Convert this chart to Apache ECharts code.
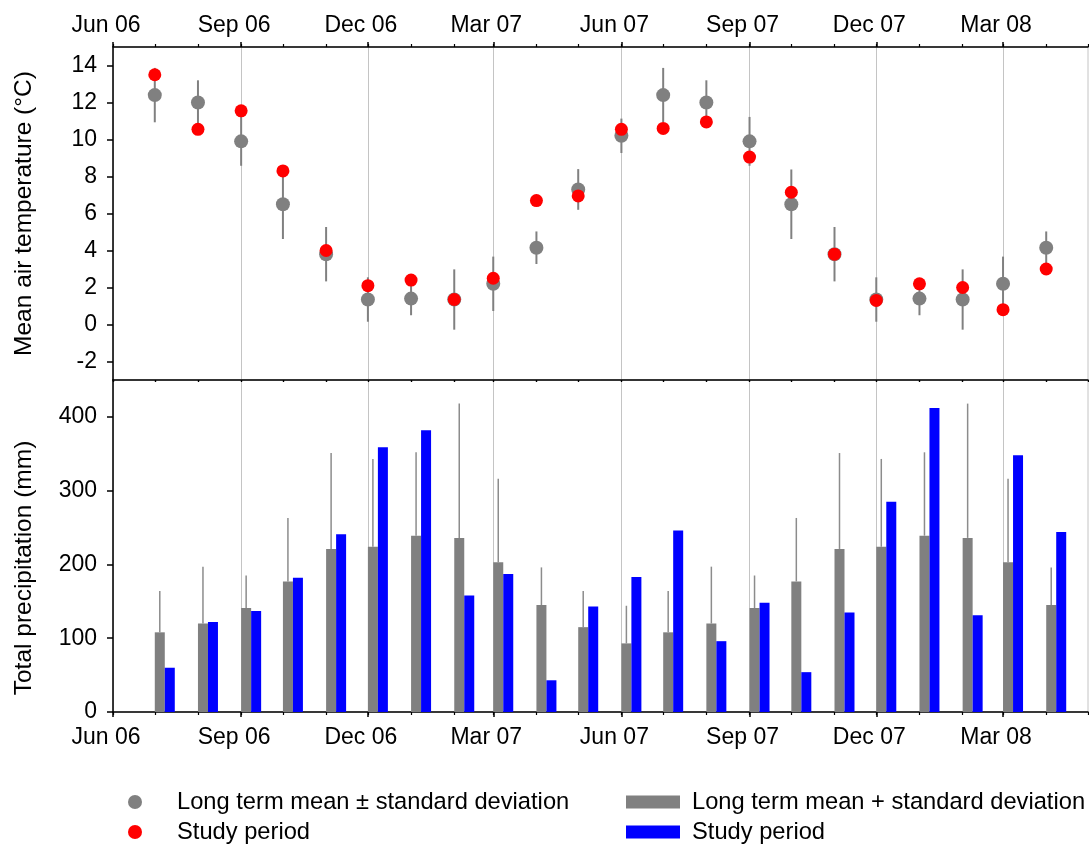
<!DOCTYPE html>
<html>
<head>
<meta charset="utf-8">
<script src="https://cdn.jsdelivr.net/npm/echarts@6/dist/echarts.min.js"></script>
<style>
  html, body { margin: 0; padding: 0; background: #fff; }
  #chart { width: 1089px; height: 845px; }
</style>
</head>
<body>
<div id="chart"></div>
<script>
// Monthly observation dates (first of each month)
const months = [
  '2006-07-01', '2006-08-01', '2006-09-01', '2006-10-01', '2006-11-01', '2006-12-01',
  '2007-01-01', '2007-02-01', '2007-03-01', '2007-04-01', '2007-05-01', '2007-06-01',
  '2007-07-01', '2007-08-01', '2007-09-01', '2007-10-01', '2007-11-01', '2007-12-01',
  '2008-01-01', '2008-02-01', '2008-03-01', '2008-04-01'
];

// Mean air temperature (°C)
const tempLongMean = [12.4, 12.0, 9.9, 6.5, 3.8, 1.35, 1.4, 1.35, 2.2, 4.15, 7.3, 10.2,
                      12.4, 12.0, 9.9, 6.5, 3.8, 1.35, 1.4, 1.35, 2.2, 4.15];
const tempLongSd   = [1.47, 1.2, 1.32, 1.88, 1.47, 1.2, 0.9, 1.63, 1.47, 0.88, 1.1, 0.93,
                      1.47, 1.2, 1.32, 1.88, 1.47, 1.2, 0.9, 1.63, 1.47, 0.88];
const tempStudy    = [13.5, 10.55, 11.55, 8.3, 4.0, 2.1, 2.4, 1.35, 2.5, 6.7, 6.95, 10.55,
                      10.6, 10.95, 9.05, 7.15, 3.8, 1.3, 2.2, 2.0, 0.8, 3.0];

// Total precipitation (mm)
const precLongMean = [108, 120, 141, 177, 221, 224, 239, 236, 203, 145, 115, 93,
                      108, 120, 141, 177, 221, 224, 239, 236, 203, 145];
const precLongSd   = [56, 77, 44, 86, 130, 119, 113, 182, 113, 51, 49, 51,
                      56, 77, 44, 86, 130, 119, 113, 182, 113, 51];
const precStudy    = [60, 122, 137, 182, 241, 359, 382, 158, 187, 43, 143, 183,
                      246, 96, 148, 54, 135, 285, 412, 131, 348, 244];

// Axis ticks
const tickDates  = ['2006-06-01', '2006-09-01', '2006-12-01', '2007-03-01',
                    '2007-06-01', '2007-09-01', '2007-12-01', '2008-03-01'];
const tickLabels = ['Jun 06', 'Sep 06', 'Dec 06', 'Mar 07', 'Jun 07', 'Sep 07', 'Dec 07', 'Mar 08'];
const axisStart = '2006-06-01';
const axisEnd   = '2008-05-01';
const tempTicks = [-2, 0, 2, 4, 6, 8, 10, 12, 14];
const precTicks = [0, 100, 200, 300, 400];

const FONT = '"Liberation Sans", Arial, sans-serif';
const TICK_FS = 23, TITLE_FS = 24.5, LEGEND_FS = 23.7;

// Dates are placed on a linear axis as millisecond timestamps
function ts(s) {
  const p = s.split('-').map(Number);
  return new Date(p[0], p[1] - 1, p[2]).getTime();
}
const monthTs = months.map(ts);
const majorTs = tickDates.map(ts);
const minorTs = [];
for (let d = new Date(2006, 5, 1); d.getTime() <= ts(axisEnd); d.setMonth(d.getMonth() + 1)) {
  minorTs.push(d.getTime());
}
const xMin = ts(axisStart), xMax = ts(axisEnd);

function labelFor(v) {
  let best = -1, bestD = Infinity;
  majorTs.forEach((t, i) => { const dd = Math.abs(t - v); if (dd < bestD) { bestD = dd; best = i; } });
  return bestD < 86400000 ? tickLabels[best] : '';
}

const tempRows  = monthTs.map((t, i) => [t, tempLongMean[i], tempLongSd[i]]);
const precRows  = monthTs.map((t, i) => [t, precLongMean[i], precLongSd[i]]);
const precStudyRows = monthTs.map((t, i) => [t, precStudy[i]]);

const axisBlack = { lineStyle: { color: '#000', width: 1.5 } };
const gridLine = { show: true, lineStyle: { color: '#c4c4c4', width: 1 } };

function majorX(gridIndex, position, showLabel) {
  return {
    type: 'value', gridIndex, position, min: xMin, max: xMax, scale: true,
    axisLine: { show: true, onZero: false, ...axisBlack },
    axisTick: { show: true, customValues: majorTs, length: 5, lineStyle: { color: '#000', width: 1.5 } },
    axisLabel: {
      show: showLabel, customValues: majorTs, formatter: labelFor,
      fontSize: TICK_FS, fontFamily: FONT, color: '#000', padding: [0, 14, 0, 0],
      margin: position === 'top' ? 10 : 14, hideOverlap: false
    },
    splitLine: { ...gridLine }
  };
}
function minorX(gridIndex, position, inside, len) {
  return {
    type: 'value', gridIndex, position, min: xMin, max: xMax, scale: true,
    axisLine: { show: inside, onZero: false, ...axisBlack },
    axisTick: { show: true, inside, customValues: minorTs, length: len, lineStyle: { color: '#000', width: 1.2 } },
    axisLabel: { show: false },
    splitLine: { show: false }
  };
}

const option = {
  animation: false,
  backgroundColor: '#fff',
  grid: [
    { left: 113, top: 47, width: 975, height: 333, show: true, borderColor: '#c4c4c4', borderWidth: 1, outerBoundsMode: 'none' },
    { left: 113, top: 380, width: 975, height: 332, show: true, borderColor: '#c4c4c4', borderWidth: 1, outerBoundsMode: 'none' }
  ],
  xAxis: [
    majorX(0, 'top', true),
    majorX(1, 'bottom', true),
    minorX(0, 'top', false, 3),
    minorX(1, 'bottom', false, 3),
    minorX(1, 'top', true, 2),
    minorX(0, 'bottom', false, 2)
  ],
  yAxis: [
    {
      type: 'value', gridIndex: 0, min: -3, max: 15,
      name: 'Mean air temperature (°C)', nameLocation: 'middle', nameGap: 76,
      nameTextStyle: { fontSize: TITLE_FS, fontFamily: FONT, color: '#000' },
      axisLine: { show: true, onZero: false, ...axisBlack },
      axisTick: { show: true, customValues: tempTicks, length: 6, lineStyle: { color: '#000', width: 1.5 } },
      axisLabel: { customValues: tempTicks, fontSize: TICK_FS, fontFamily: FONT, color: '#000', margin: 16 },
      splitLine: { show: false }
    },
    {
      type: 'value', gridIndex: 1, min: 0, max: 450,
      name: 'Total precipitation (mm)', nameLocation: 'middle', nameGap: 76,
      nameTextStyle: { fontSize: TITLE_FS, fontFamily: FONT, color: '#000', padding: [0, 44, 0, 0] },
      axisLine: { show: true, onZero: false, ...axisBlack },
      axisTick: { show: true, customValues: precTicks, length: 6, lineStyle: { color: '#000', width: 1.5 } },
      axisLabel: { customValues: precTicks, fontSize: TICK_FS, fontFamily: FONT, color: '#000', margin: 16 },
      splitLine: { show: false }
    }
  ],
  legend: [
    {
      orient: 'vertical', left: 128, top: 790, padding: 0,
      itemWidth: 14, itemHeight: 14, itemGap: 6, selectedMode: false,
      data: [
        { name: 'Long term mean ± standard deviation', icon: 'circle' },
        { name: 'Study period (air temperature)', icon: 'circle' }
      ],
      formatter: n => n.replace(/ \(.*\)$/, ''),
      textStyle: { fontSize: LEGEND_FS, lineHeight: 24, fontFamily: FONT, color: '#000', padding: [0, 0, 0, 30] }
    },
    {
      orient: 'vertical', left: 626, top: 790, padding: 0,
      itemWidth: 54, itemHeight: 13, itemGap: 6, selectedMode: false,
      data: [
        { name: 'Long term mean + standard deviation', icon: 'rect' },
        { name: 'Study period (precipitation)', icon: 'rect' }
      ],
      formatter: n => n.replace(/ \(.*\)$/, ''),
      textStyle: { fontSize: LEGEND_FS, lineHeight: 24, fontFamily: FONT, color: '#000', padding: [0, 0, 0, 7] }
    }
  ],
  series: [
    {
      name: 'Long term mean ± standard deviation',
      type: 'custom', xAxisIndex: 0, yAxisIndex: 0,
      data: tempRows, encode: { x: 0, y: 1 },
      itemStyle: { color: '#808080' },
      renderItem(params, api) {
        const x = api.value(0), m = api.value(1), sd = api.value(2);
        const lo = api.coord([x, m - sd]);
        const hi = api.coord([x, m + sd]);
        return {
          type: 'line',
          shape: { x1: lo[0], y1: lo[1], x2: hi[0], y2: hi[1] },
          style: { stroke: '#808080', lineWidth: 2 }
        };
      }
    },
    {
      name: 'Long term mean ± standard deviation',
      type: 'scatter', xAxisIndex: 0, yAxisIndex: 0,
      data: tempRows.map(r => [r[0], r[1]]),
      symbol: 'circle', symbolSize: 14,
      itemStyle: { color: '#808080', opacity: 1 }
    },
    {
      name: 'Study period (air temperature)',
      type: 'scatter', xAxisIndex: 0, yAxisIndex: 0,
      data: monthTs.map((t, i) => [t, tempStudy[i]]),
      symbol: 'circle', symbolSize: 13,
      itemStyle: { color: '#ff0000', opacity: 1 }
    },
    {
      name: 'Long term mean + standard deviation',
      type: 'custom', xAxisIndex: 1, yAxisIndex: 1,
      data: precRows, encode: { x: 0, y: 1 },
      itemStyle: { color: '#808080' },
      renderItem(params, api) {
        const x = api.value(0), m = api.value(1), sd = api.value(2);
        const base = api.coord([x, 0]);
        const top = api.coord([x, m]);
        const hi = api.coord([x, m + sd]);
        return {
          type: 'group',
          children: [
            { type: 'line', shape: { x1: base[0] + 5, y1: top[1], x2: base[0] + 5, y2: hi[1] },
              style: { stroke: '#8c8c8c', lineWidth: 1.5 } },
            { type: 'rect', shape: { x: base[0], y: top[1], width: 10, height: base[1] - top[1] },
              style: { fill: '#808080' } }
          ]
        };
      }
    },
    {
      name: 'Study period (precipitation)',
      type: 'custom', xAxisIndex: 1, yAxisIndex: 1,
      data: precStudyRows, encode: { x: 0, y: 1 },
      itemStyle: { color: '#0000ff' },
      renderItem(params, api) {
        const x = api.value(0), v = api.value(1);
        const base = api.coord([x, 0]);
        const top = api.coord([x, v]);
        return {
          type: 'rect',
          shape: { x: base[0] + 10, y: top[1], width: 10, height: base[1] - top[1] },
          style: { fill: '#0000ff' }
        };
      }
    }
  ]
};

const chart = echarts.init(document.getElementById('chart'), null, { renderer: 'canvas' });
chart.setOption(option);
</script>
</body>
</html>
